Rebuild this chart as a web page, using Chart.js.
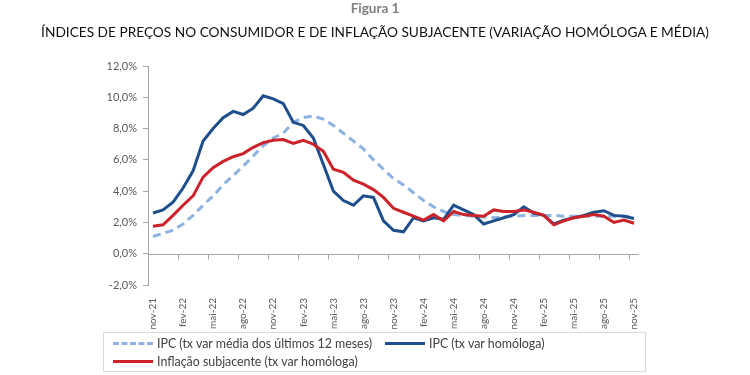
<!DOCTYPE html>
<html>
<head>
<meta charset="utf-8">
<script src="https://cdn.jsdelivr.net/npm/chart.js@4/dist/chart.umd.min.js"></script>
<style>
  html,body{margin:0;padding:0;background:#fff;}
  #wrap{position:relative;width:750px;height:375px;overflow:hidden;font-family:Lato,"Open Sans",sans-serif;}
  #c{position:absolute;left:0;top:0;}
  .t1{position:absolute;left:0;top:0;width:750px;text-align:center;font-size:13.5px;font-weight:bold;color:#7f7f7f;line-height:16px;}
  .t2{position:absolute;left:0;top:23px;width:750px;text-align:center;font-size:13.7px;color:#111;line-height:18px;}
  .legend{position:absolute;left:103px;top:332px;width:543px;height:40px;border:1px solid #d9d9d9;box-sizing:border-box;font-size:12.4px;color:#404040;}
  .item{position:absolute;height:16px;line-height:16px;white-space:nowrap;}
  .sw{display:inline-block;vertical-align:middle;width:40px;height:0;margin-right:4px;position:relative;top:-1px;}
</style>
</head>
<body>
<div id="wrap">
  <canvas id="c" width="750" height="375"></canvas>
  <div class="t1">Figura 1</div>
  <div class="t2">ÍNDICES DE PREÇOS NO CONSUMIDOR E DE INFLAÇÃO SUBJACENTE (VARIAÇÃO HOMÓLOGA E MÉDIA)</div>
  <div class="legend">
    <div class="item" style="left:9px;top:3px;"><span class="sw" style="border-top:3px dashed #8db3e2;"></span>IPC (tx var média dos últimos 12 meses)</div>
    <div class="item" style="left:281px;top:3px;"><span class="sw" style="border-top:3px solid #1f4e8c;"></span>IPC (tx var homóloga)</div>
    <div class="item" style="left:9px;top:21px;"><span class="sw" style="border-top:3px solid #cc2229;"></span>Inflação subjacente (tx var homóloga)</div>
  </div>
</div>
<script>
const categories = ['nov-21','dez-21','jan-22','fev-22','mar-22','abr-22','mai-22','jun-22','jul-22','ago-22','set-22','out-22','nov-22',
  'dez-22','jan-23','fev-23','mar-23','abr-23','mai-23','jun-23','jul-23','ago-23','set-23','out-23','nov-23',
  'dez-23','jan-24','fev-24','mar-24','abr-24','mai-24','jun-24','jul-24','ago-24','set-24','out-24','nov-24',
  'dez-24','jan-25','fev-25','mar-25','abr-25','mai-25','jun-25','jul-25','ago-25','set-25','out-25','nov-25'];

const ipcMedia12 = [1.1,1.3,1.5,1.9,2.45,3.1,3.7,4.4,5.0,5.6,6.25,6.9,7.4,
  7.7,8.4,8.7,8.8,8.6,8.2,7.7,7.2,6.7,6.0,5.4,4.8,
  4.4,3.9,3.4,3.0,2.7,2.5,2.45,2.4,2.35,2.3,2.35,2.4,
  2.45,2.45,2.45,2.45,2.4,2.4,2.4,2.4,2.4,2.4,2.4,2.35];

const ipcHomologa = [2.6,2.8,3.3,4.2,5.3,7.2,8.0,8.7,9.1,8.9,9.3,10.1,9.9,
  9.6,8.4,8.2,7.4,5.7,4.0,3.4,3.1,3.7,3.6,2.1,1.5,
  1.4,2.3,2.1,2.3,2.2,3.1,2.8,2.5,1.9,2.1,2.3,2.5,
  3.0,2.6,2.45,1.9,2.15,2.3,2.45,2.65,2.75,2.45,2.4,2.25];

const inflacaoSubjacente = [1.75,1.85,2.45,3.1,3.7,4.9,5.5,5.9,6.2,6.4,6.8,7.1,7.25,
  7.3,7.05,7.25,7.0,6.55,5.4,5.2,4.7,4.45,4.1,3.6,2.9,
  2.65,2.4,2.15,2.5,2.1,2.7,2.5,2.45,2.4,2.8,2.7,2.7,
  2.8,2.65,2.45,1.85,2.1,2.3,2.4,2.5,2.4,2.0,2.15,1.95];

const yTicks = [-2,0,2,4,6,8,10,12];

const axisColor = '#a6a6a6';

const zeroLinePlugin = {
  id: 'zeroLine',
  beforeDatasetsDraw(chart) {
    const {ctx, scales:{x, y}, chartArea} = chart;
    const y0 = Math.round(y.getPixelForValue(0)) + 0.5;
    const step = x.getPixelForValue(1) - x.getPixelForValue(0);
    ctx.save();
    ctx.strokeStyle = axisColor;
    ctx.lineWidth = 1;
    ctx.beginPath();
    ctx.moveTo(chartArea.left, y0);
    ctx.lineTo(chartArea.right, y0);
    for (let i = 0; i < categories.length; i += 3) {
      const px = Math.round(x.getPixelForValue(i) - step / 2) + 0.5;
      ctx.moveTo(px, y0);
      ctx.lineTo(px, y0 + 5);
    }
    ctx.stroke();
    ctx.restore();
  }
};

new Chart(document.getElementById('c'), {
  type: 'line',
  data: {
    labels: categories,
    datasets: [
      {label:'IPC (tx var média dos últimos 12 meses)', data: ipcMedia12, borderColor:'#8db3e2', borderWidth:3, borderDash:[8,5], pointRadius:0, tension:0, order:3},
      {label:'IPC (tx var homóloga)', data: ipcHomologa, borderColor:'#1f4e8c', borderWidth:3, pointRadius:0, tension:0, order:2},
      {label:'Inflação subjacente (tx var homóloga)', data: inflacaoSubjacente, borderColor:'#cc2229', borderWidth:3, pointRadius:0, tension:0, order:1}
    ]
  },
  options: {
    responsive: false,
    animation: false,
    devicePixelRatio: 1,
    layout: {padding: {left: 0, top: 66, right: 111, bottom: 10}},
    plugins: {legend: {display: false}, tooltip: {enabled: false}, title: {display: false}},
    scales: {
      x: {
        offset: true,
        grid: {display: false},
        border: {display: false},
        afterFit(scale) { scale.height = 80; },
        ticks: {
          autoSkip: false, maxRotation: 90, minRotation: 90, padding: 5,
          color: '#595959', font: {family: 'Lato', size: 10},
          callback: (v, i) => (i % 3 === 0 ? categories[i] : '')
        }
      },
      y: {
        min: -2, max: 12,
        afterFit(scale) { scale.width = 148; },
        afterBuildTicks(scale) { scale.ticks = yTicks.map(v => ({value: v})); },
        grid: {drawOnChartArea: false, color: axisColor, tickLength: 5},
        border: {display: true, color: axisColor},
        ticks: {
          padding: 6, color: '#595959', font: {family: 'Lato', size: 11},
          callback: v => v.toFixed(1).replace('.', ',') + '%'
        }
      }
    }
  },
  plugins: [zeroLinePlugin]
});
</script>
</body>
</html>
